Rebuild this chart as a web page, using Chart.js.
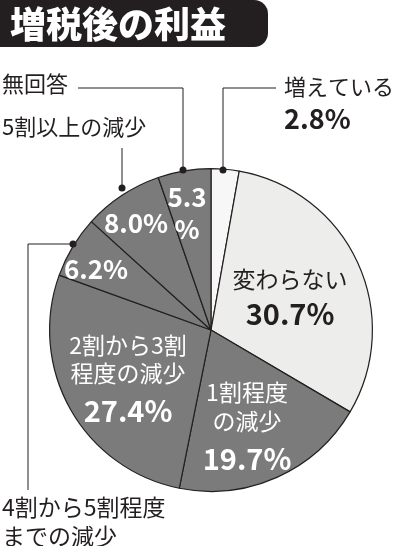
<!DOCTYPE html>
<html><head><meta charset="utf-8">
<script src="https://cdn.jsdelivr.net/npm/chart.js@4"></script>
<style>body{margin:0;background:#fff}#w{position:relative;width:420px;height:546px}</style>
</head><body><div id="w"><canvas id="c" width="420" height="546"></canvas></div>
<script>
const categories = ["増えている","変わらない","1割程度の減少","2割から3割程度の減少","4割から5割程度までの減少","5割以上の減少","無回答"];
const values = [2.8,30.7,19.7,27.4,6.2,8.0,5.3];
const colors = ["#f7f7f7","#ededeb","#7b7b7b","#7b7b7b","#7b7b7b","#7b7b7b","#7b7b7b"];
const F = '"Noto Sans CJK JP", sans-serif';
const deco = {
  id:'deco',
  afterDraw(ch){
    const x = ch.ctx;
    x.save();
    x.fillStyle='#231f20';
    x.beginPath(); x.roundRect(-20,0,288,47,14); x.fill();
    x.fillStyle='#fff'; x.font='900 36px '+F; x.textBaseline='middle'; x.textAlign='left';
    x.fillText('増税後の利益',10,24);
    const t=(s,px,py,sz,b,c,al)=>{x.font=(b?'bold ':'')+sz+'px '+F;x.fillStyle=c;x.textAlign=al||'center';x.fillText(s,px,py);};
    t('変わらない',290,279,23,false,'#231f20');
    t('30.7%',290,314,29,true,'#231f20');
    t('1割程度',247,392,23,false,'#fff');
    t('の減少',247,421,23,false,'#fff');
    t('19.7%',247,459,29,true,'#fff');
    t('2割から3割',128,345,23,false,'#fff');
    t('程度の減少',128,373,23,false,'#fff');
    t('27.4%',128,411,29,true,'#fff');
    t('6.2%',96,269,26,true,'#fff');
    t('8.0%',136,223,26,true,'#fff');
    t('5.3',187,197,26,true,'#fff');
    t('%',187,229,26,true,'#fff');
    t('増えている',284,87,22,false,'#231f20','left');
    t('2.8%',284,119,27,true,'#231f20','left');
    t('無回答',2,84,22,false,'#231f20','left');
    t('5割以上の減少',2,127,22,false,'#231f20','left');
    t('4割から5割程度',2,507,23,false,'#231f20','left');
    t('までの減少',2,536,23,false,'#231f20','left');
    x.strokeStyle='#231f20'; x.lineWidth=1;
    const L=(pts)=>{x.beginPath();x.moveTo(pts[0][0],pts[0][1]);for(const p of pts.slice(1))x.lineTo(p[0],p[1]);x.stroke();};
    L([[223,170],[223,88],[276,88]]);
    L([[78,88],[183,88],[183,170]]);
    L([[122,188],[122,148]]);
    L([[73,244],[28,244],[28,490]]);
    x.fillStyle='#231f20';
    for(const [a,b] of [[223,170],[183,170],[122,188],[73,244]]){x.beginPath();x.arc(a,b,3.5,0,Math.PI*2);x.fill();}
    x.restore();
  }
};
new Chart(document.getElementById('c'),{
  type:'pie',
  data:{labels:categories,datasets:[{data:values,backgroundColor:colors,borderColor:'#231f20',borderWidth:1.2}]},
  options:{responsive:false,animation:false,
    layout:{padding:{left:49,right:47,top:168,bottom:54}},
    plugins:{legend:{display:false},tooltip:{enabled:false}}},
  plugins:[deco]
});
</script></body></html>
